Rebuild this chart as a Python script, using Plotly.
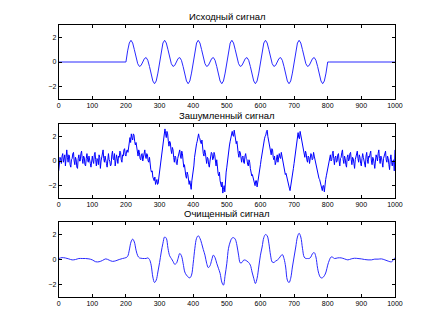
import plotly.graph_objects as go
from plotly.subplots import make_subplots

# ---- Исходный сигнал: samples every 5 points ----
s_orig = (
    [0.0] * 40
    + [0.00, 0.90, 1.54, 1.76, 1.54, 1.00, 0.36, -0.14, -0.36, -0.28,
       0.00, 0.28, 0.36, 0.14, -0.36, -1.00, -1.54, -1.76, -1.54, -0.90,
       0.00, 0.90, 1.54, 1.76, 1.54, 1.00, 0.36, -0.14, -0.36, -0.28,
       0.00, 0.28, 0.36, 0.14, -0.36, -1.00, -1.54, -1.76, -1.54, -0.90,
       0.00, 0.90, 1.54, 1.76, 1.54, 1.00, 0.36, -0.14, -0.36, -0.28,
       0.00, 0.28, 0.36, 0.14, -0.36, -1.00, -1.54, -1.76, -1.54, -0.90,
       0.00, 0.90, 1.54, 1.76, 1.54, 1.00, 0.36, -0.14, -0.36, -0.28,
       0.00, 0.28, 0.36, 0.14, -0.36, -1.00, -1.54, -1.76, -1.54, -0.90,
       0.00, 0.90, 1.54, 1.76, 1.54, 1.00, 0.36, -0.14, -0.36, -0.28,
       0.00, 0.28, 0.36, 0.14, -0.36, -1.00, -1.54, -1.76, -1.54, -0.90,
       0.00, 0.90, 1.54, 1.76, 1.54, 1.00, 0.36, -0.14, -0.36, -0.28,
       0.00, 0.28, 0.36, 0.14, -0.36, -1.00, -1.54, -1.76, -1.54, -0.90]
    + [0.0] * 41
)
t_orig = list(range(0, 5 * len(s_orig), 5))

# ---- Зашумленный сигнал: samples every 2 points ----
s_noisy = [
    # 0 .. 98
    -0.8, -0.2, 0.3, 0.1, -0.2, 0.4, 0.6, -0.1, 0.1, 0.5,
    -0.4, 0.2, 0.9, 0.3, -0.1, 0.5, 0.4, -0.3, -0.5, 0.1,
    0.2, 0.6, 0.7, 0.0, -0.3, 0.3, 0.1, -0.5, -0.6, 0.2,
    0.5, 0.0, 0.0, 0.6, 0.8, 0.2, -0.2, 0.4, 0.3, -0.3,
    -0.4, 0.2, 0.6, 0.1, -0.1, 0.4, 0.2, -0.2, -0.5, 0.1,
    # 100 .. 198
    0.4, 0.0, -0.2, 0.5, 0.7, 0.1, -0.4, 0.2, 0.1, -0.3,
    0.5, 0.3, -0.6, 0.0, 0.3, 0.7, 0.9, 0.2, -0.1, 0.4,
    0.2, -0.2, -0.5, 0.3, 0.6, 0.1, 0.0, -0.4, -0.3, 0.5,
    0.8, 0.2, 0.1, 0.6, -0.4, 0.0, 0.5, 0.2, -0.2, 0.4,
    0.3, 0.8, 0.7, 0.1, -0.1, 0.5, 0.4, 0.9, 1.0, 0.5,
    # 200 .. 298
    0.4, 0.8, 0.9, 0.7, 1.2, 1.6, 1.9, 1.5, 2.2, 1.9,
    1.7, 2.2, 2.1, 1.6, 1.3, 1.5, 1.0, 0.6, 0.4, 0.9,
    0.7, 0.2, 0.1, 0.5, 0.6, 0.0, 0.3, 0.7, 0.9, 0.4,
    0.2, 0.6, 0.5, 0.0, -0.1, 0.3, -0.4, -0.7, -0.9, -0.8,
    -1.3, -1.4, -1.6, -1.3, -1.9, -1.7, -1.5, -1.9, -1.8, -1.3,
    # 300 .. 398
    -0.9, -0.5, 0.2, 0.6, 1.1, 1.5, 1.8, 2.3, 2.6, 2.2,
    1.9, 2.4, 2.2, 1.6, 1.2, 1.6, 1.5, 0.9, 0.6, 1.1,
    0.9, 0.3, -0.1, 0.4, 0.3, -0.2, -0.3, 0.2, 0.5, 0.9,
    0.9, 0.4, 0.2, 0.8, 0.6, 0.0, -0.5, -0.3, -0.9, -1.2,
    -1.4, -0.9, -1.1, -1.6, -1.9, -1.6, -2.2, -2.3, -1.6, -1.3,
    # 400 .. 498
    -0.9, -0.4, 0.3, 0.8, 1.2, 1.4, 1.6, 2.0, 2.2, 1.9,
    1.8, 1.5, 1.4, 1.7, 1.0, 0.6, 0.4, 0.9, 0.7, 0.1,
    -0.2, 0.3, 0.2, -0.3, -0.5, 0.0, 0.4, 0.7, 0.6, 0.1,
    0.2, 0.7, 0.5, -0.1, -0.4, 0.1, -0.8, -1.0, -1.2, -0.9,
    -1.6, -1.8, -2.1, -1.7, -2.6, -2.3, -2.0, -2.5, -1.3, -0.9,
    # 500 .. 598
    -0.5, 0.1, 0.6, 1.0, 1.3, 1.6, 1.9, 2.3, 2.4, 2.1,
    2.0, 2.5, 2.2, 1.8, 1.4, 1.6, 0.9, 0.6, 0.3, 0.8,
    0.7, 0.2, -0.1, 0.3, 0.4, -0.1, -0.2, 0.4, 0.6, 0.2,
    0.1, -0.3, -0.4, 0.1, -0.1, -0.6, -0.8, -1.2, -1.1, -1.4,
    -1.5, -1.9, -2.0, -1.6, -1.6, -2.1, -1.8, -1.3, -0.9, -0.6,
    # 600 .. 698
    -0.3, 0.1, 0.5, 0.9, 1.2, 1.6, 1.8, 2.0, 2.1, 2.4,
    2.5, 2.0, 1.7, 1.5, 1.1, 0.7, 0.5, 1.0, 0.9, 0.3,
    0.1, 0.4, -0.3, -0.1, 0.3, 0.5, -0.1, 0.2, 0.6, 0.3,
    0.2, 0.7, 0.4, -0.1, -0.3, -0.6, -0.7, -1.1, -1.0, -1.3,
    -1.5, -1.8, -1.9, -2.2, -2.4, -2.1, -1.8, -1.5, -1.1, -0.6,
    # 700 .. 798
    -0.2, 0.3, 0.7, 1.1, 1.5, 2.0, 2.3, 1.9, 1.8, 2.4,
    2.1, 1.7, 1.5, 1.2, 0.9, 0.5, 0.3, 0.8, 0.6, 0.1,
    -0.1, 0.4, 0.3, -0.2, 0.1, 0.6, 0.5, 0.1, 0.2, 0.7,
    0.4, 0.1, -0.2, -0.4, -0.6, -1.0, -1.1, -1.4, -1.5, -1.7,
    -1.9, -2.2, -2.4, -2.0, -2.0, -2.5, -1.7, -1.5, -1.2, -0.9,
    # 800 .. 898
    -0.6, -0.3, -0.2, 0.4, 0.5, 0.0, 0.1, 0.6, 0.8, 0.2,
    -0.3, 0.3, 0.4, -0.1, 0.0, 0.5, 0.6, 0.0, -0.4, 0.2,
    0.3, 0.7, 0.9, 0.1, -0.2, 0.4, 0.2, -0.3, -0.5, 0.3,
    0.5, 0.0, 0.1, 0.6, 0.7, 0.1, -0.3, 0.3, 0.2, -0.2,
    -0.6, 0.1, 0.4, 0.7, 0.8, 0.2, -0.1, 0.5, 0.3, -0.2,
    # 900 .. 1000
    -0.4, 0.2, 0.6, 0.3, 0.1, -0.3, -0.5, 0.4, 0.7, 0.1,
    -0.2, 0.4, 0.3, 0.6, 0.8, 0.0, -0.3, 0.3, 0.2, -0.2,
    -0.6, 0.0, 0.5, 0.3, 0.0, 0.6, 0.9, 0.2, -0.2, 0.4,
    0.3, -0.1, -0.5, 0.2, 0.4, 0.5, 0.8, 0.1, -0.1, 0.4,
    0.2, -0.3, -0.7, 0.1, 0.5, -0.1, -0.4, 0.0, 0.1, -0.8,
    0.9,
]
t_noisy = list(range(0, 2 * len(s_noisy), 2))

# ---- Очищенный сигнал ----
t_clean = (list(range(0, 200, 10)) + list(range(200, 820, 5))
           + list(range(820, 1001, 10)))
s_clean = [
    0.08, 0.15, 0.12, 0.05, -0.03, 0.00, 0.08, 0.08, 0.08, 0.05,
    -0.03, -0.18, -0.18, -0.08, 0.05, -0.05, -0.15, -0.10, 0.00, 0.08,
    # 200 .. 295
    0.15, 0.25, 0.75, 1.40, 1.63, 1.40, 0.75, 0.30, 0.13, 0.10,
    0.08, 0.08, 0.08, 0.13, 0.00, -0.45, -1.40, -1.84, -1.65, -1.00,
    # 300 .. 395
    -0.25, 0.60, 1.30, 1.80, 1.70, 0.90, 0.30, 0.08, -0.15, -0.38,
    -0.30, 0.08, 0.48, 0.30, -0.30, -1.00, -1.25, -1.40, -1.47, -1.25,
    # 400 .. 495
    -0.30, 0.90, 1.70, 1.90, 1.70, 1.30, 0.80, 0.35, -0.30, -0.65,
    -0.50, -0.05, 0.35, 0.15, -0.30, -0.70, -1.10, -1.80, -2.05, -1.25,
    # 500 .. 595
    -0.30, 0.90, 1.40, 1.70, 1.75, 1.63, 1.15, 0.35, -0.27, -0.24,
    -0.05, -0.05, -0.13, -0.24, -0.45, -1.00, -1.50, -1.92, -1.50, -0.60,
    # 600 .. 695
    0.35, 1.00, 1.75, 2.00, 1.90, 1.30, 0.35, -0.20, -0.24, -0.13,
    -0.05, 0.08, 0.27, 0.40, 0.08, -0.60, -1.65, -1.85, -1.50, -0.60,
    # 700 .. 795
    0.20, 1.00, 1.80, 2.10, 1.80, 0.90, 0.20, 0.08, 0.08, 0.08,
    0.20, 0.48, 0.55, 0.20, -0.70, -1.25, -1.47, -1.45, -1.30, -1.00,
    # 800 .. 815
    -0.45, -0.05, 0.20, 0.18,
    # 820 .. 1000
    0.08, 0.13, 0.13, 0.05, -0.03, 0.05, 0.10, 0.08, 0.05, 0.00,
    -0.03, -0.03, 0.03, 0.03, 0.05, -0.03, -0.13, -0.18, 0.15,
]

titles = ["Исходный сигнал", "Зашумленный сигнал", "Очищенный сигнал"]
x_ticks = list(range(0, 1001, 100))
y_ticks = [-2, 0, 2]

W, H = 444, 333
x_dom = [58 / W, 402 / W]
y_doms = [
    [1 - 99 / H, 1 - 25 / H],
    [1 - 198 / H, 1 - 124 / H],
    [1 - 297 / H, 1 - 222 / H],
]
# titles sit just above each axes box
title_bottom = [23, 122, 220]

fig = make_subplots(rows=3, cols=1)
series = [(t_orig, s_orig, "#2a2aff"), (t_noisy, s_noisy, "#0000ff"),
          (t_clean, s_clean, "#2a2aff")]
for i, (tx, sy, col) in enumerate(series, start=1):
    fig.add_trace(
        go.Scatter(x=tx, y=sy, mode="lines",
                   line=dict(color=col, width=1,
                             shape="spline" if i == 3 else "linear"),
                   showlegend=False, hoverinfo="skip"),
        row=i, col=1,
    )

axis_font = dict(family="Liberation Sans, Arial, sans-serif", size=7, color="black")
for i in range(3):
    xa = "xaxis" if i == 0 else f"xaxis{i + 1}"
    ya = "yaxis" if i == 0 else f"yaxis{i + 1}"
    fig.layout[xa].update(
        domain=x_dom, range=[0, 1000], tickvals=x_ticks,
        ticks="inside", ticklen=3, tickcolor="black", mirror="ticks",
        showline=True, linecolor="black", linewidth=1, showgrid=False,
        zeroline=False, tickfont=axis_font,
    )
    fig.layout[ya].update(
        domain=y_doms[i], range=[-3, 3], tickvals=y_ticks,
        ticks="inside", ticklen=3, tickcolor="black", mirror="ticks",
        showline=True, linecolor="black", linewidth=1, showgrid=False,
        zeroline=False, tickfont=axis_font,
    )
    fig.add_annotation(
        text=titles[i], x=230 / W, y=1 - title_bottom[i] / H,
        xref="paper", yref="paper", xanchor="center", yanchor="bottom",
        showarrow=False, borderpad=0,
        font=dict(family="Liberation Sans, Arial, sans-serif", size=9.5, color="black"),
    )

fig.update_layout(
    width=W, height=H, margin=dict(l=0, r=0, t=0, b=0),
    paper_bgcolor="white", plot_bgcolor="white",
)

fig.write_html("out.html")
